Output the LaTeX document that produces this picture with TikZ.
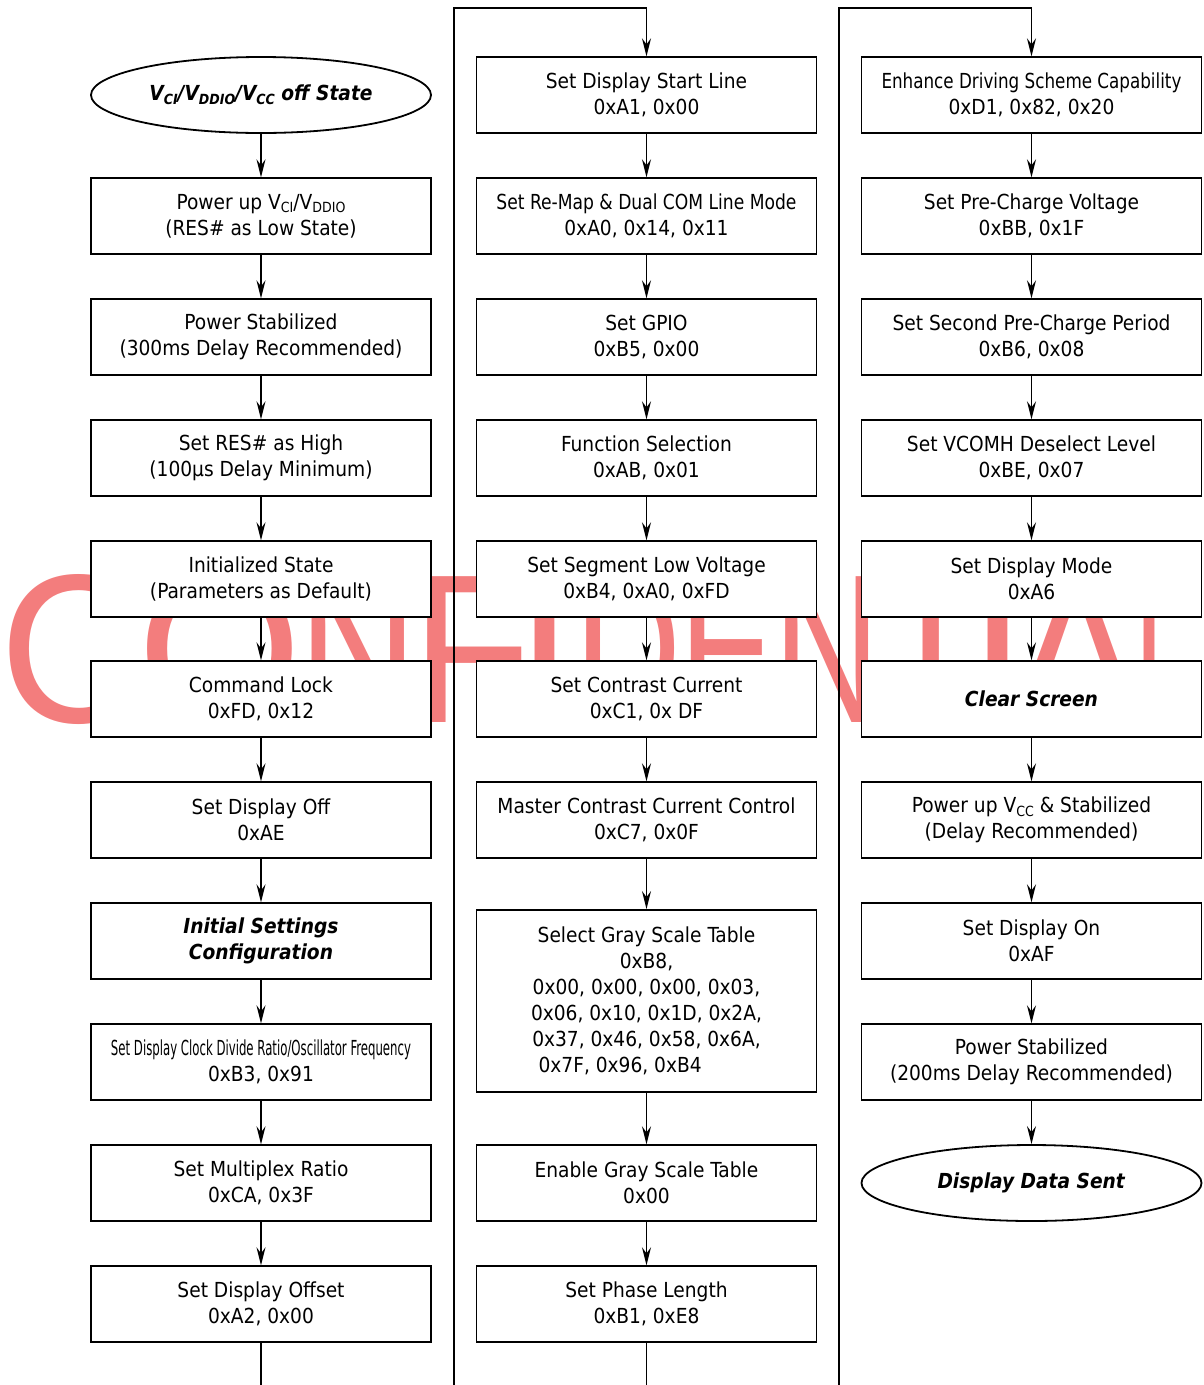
\documentclass[tikz,border=0pt]{standalone}
\usepackage{fontspec}
\usepackage{graphicx}
\setmainfont{DejaVu Sans Condensed}
\newfontfamily\wmfont{Liberation Sans}
\usetikzlibrary{shapes.geometric,arrows.meta}
\definecolor{wmred}{RGB}{243,125,125}
\newcommand{\bodyfont}{\fontsize{20.7}{26}\selectfont}
\newcommand{\mysub}[1]{\raisebox{-0.18em}{\fontsize{14}{14}\selectfont #1}}
\newcommand{\bi}[1]{\textbf{\textit{#1}}}
\newcommand{\squeeze}[2]{\resizebox{#1}{\height}{#2}}
\newcommand{\lalignline}[2]{\setbox0\hbox{#1}\hbox to \wd0{#2\hfil}}
\tikzset{
  box/.style={draw, line width=1.8pt, fill=white, minimum width=340pt, minimum height=75.5pt, align=center, inner sep=0pt, font=\bodyfont},
  oval/.style={ellipse, draw, line width=1.8pt, fill=white, minimum width=340pt, minimum height=76pt, align=center, inner sep=0pt, font=\bodyfont},
  flow/.style={line width=1.6pt, -{Stealth[length=18pt,width=9pt,inset=6pt]}},
  plain/.style={line width=1.6pt},
  wm/.style={inner sep=0pt, anchor=base, text=wmred, font=\wmfont\fontsize{212}{212}\selectfont},
}
\begin{document}
\begin{tikzpicture}[x=1pt,y=-1pt]
\useasboundingbox (0,0) rectangle (1203,1385);
% watermark letters
\node[wm] (w1) at (74,722) {\scalebox{0.97}[1]{C}};
\node[wm] (w2) at (219.5,722) {\scalebox{1.0}[1]{O}};
\node[wm] (w3) at (358,722) {\scalebox{0.78}[1]{N}};
\node[wm] (w4) at (472,722) {\scalebox{0.93}[1]{F}};
\node[wm] (w5) at (545,722) {I};
\node[wm] (w6) at (628,722) {\scalebox{0.70}[1]{D}};
\node[wm] (w7) at (728,722) {\scalebox{0.68}[1]{E}};
\node[wm] (w8) at (827,722) {\scalebox{0.70}[1]{N}};
\node[wm] (w9) at (931,722) {\scalebox{0.83}[1]{T}};
\node[wm] (w10) at (998,722) {I};
\node[wm] (w11) at (1077,722) {\scalebox{0.89}[1]{A}};
\node[wm, anchor=base west] (w12) at (1134,722) {\scalebox{0.55}[1]{L}};

% column 1
\node[oval] (a1) at (261,95) {\bi{V\mysub{CI}/V\mysub{DDIO}/V\mysub{CC} off State}};
\node[box] (a2) at (261,216) {Power up V\mysub{CI}/V\mysub{DDIO}\\(RES\# as Low State)};
\node[box] (a3) at (261,337) {Power Stabilized\\(300ms Delay Recommended)};
\node[box] (a4) at (261,458) {Set RES\# as High\\(100µs Delay Minimum)};
\node[box] (a5) at (261,579) {Initialized State\\(Parameters as Default)};
\node[box] (a6) at (261,699) {Command Lock\\0xFD, 0x12};
\node[box] (a7) at (261,820) {Set Display Off\\0xAE};
\node[box] (a8) at (261,941) {\bi{Initial Settings}\\\bi{Configuration}};
\node[box] (a9) at (261,1062) {\squeeze{300pt}{Set Display Clock Divide Ratio/Oscillator Frequency}\\0xB3, 0x91};
\node[box] (a10) at (261,1183) {Set Multiplex Ratio\\0xCA, 0x3F};
\node[box] (a11) at (261,1304) {Set Display Offset\\0xA2, 0x00};

% column 2
\node[box] (b1) at (646.5,95) {Set Display Start Line\\0xA1, 0x00};
\node[box] (b2) at (646.5,216) {\squeeze{300pt}{Set Re-Map \& Dual COM Line Mode}\\0xA0, 0x14, 0x11};
\node[box] (b3) at (646.5,337) {Set GPIO\\0xB5, 0x00};
\node[box] (b4) at (646.5,458) {Function Selection\\0xAB, 0x01};
\node[box] (b5) at (646.5,579) {Set Segment Low Voltage\\0xB4, 0xA0, 0xFD};
\node[box] (b6) at (646.5,699) {Set Contrast Current\\0xC1, 0x DF};
\node[box] (b7) at (646.5,820) {Master Contrast Current Control\\0xC7, 0x0F};
\node[box, minimum height=182pt] (b8) at (646.5,1001) {Select Gray Scale Table\\0xB8,\\0x00, 0x00, 0x00, 0x03,\\0x06, 0x10, 0x1D, 0x2A,\\0x37, 0x46, 0x58, 0x6A,\\\lalignline{0x00, 0x00, 0x00, 0x03,}{\ 0x7F, 0x96, 0xB4}};
\node[box] (b9) at (646.5,1183) {Enable Gray Scale Table\\0x00};
\node[box] (b10) at (646.5,1304) {Set Phase Length\\0xB1, 0xE8};

% column 3
\node[box] (c1) at (1031.5,95) {\squeeze{300pt}{Enhance Driving Scheme Capability}\\0xD1, 0x82, 0x20};
\node[box] (c2) at (1031.5,216) {Set Pre-Charge Voltage\\0xBB, 0x1F};
\node[box] (c3) at (1031.5,337) {Set Second Pre-Charge Period\\0xB6, 0x08};
\node[box] (c4) at (1031.5,458) {Set VCOMH Deselect Level\\0xBE, 0x07};
\node[box] (c5) at (1031.5,579) {Set Display Mode\\0xA6};
\node[box] (c6) at (1031.5,699) {\bi{Clear Screen}};
\node[box] (c7) at (1031.5,820) {Power up V\mysub{CC} \& Stabilized\\(Delay Recommended)};
\node[box] (c8) at (1031.5,941) {Set Display On\\0xAF};
\node[box] (c9) at (1031.5,1062) {Power Stabilized\\(200ms Delay Recommended)};
\node[oval] (c10) at (1031.5,1183) {\bi{Display Data Sent}};

% arrows
\foreach \i/\j in {1/2,2/3,3/4,4/5,5/6,6/7,7/8,8/9,9/10,10/11}{
  \draw[flow] (a\i) -- (a\j);
}
\foreach \i/\j in {1/2,2/3,3/4,4/5,5/6,6/7,7/8,8/9,9/10}{
  \draw[flow] (b\i) -- (b\j);
  \draw[flow] (c\i) -- (c\j);
}
% loop connectors
\coordinate (a-end) at (261,1385);
\coordinate (b-end) at (646.5,1385);
\coordinate (l2b) at (454,1385);
\coordinate (l2t) at (454,8);
\coordinate (l3b) at (839,1385);
\coordinate (l3t) at (839,8);
\draw[plain] (a11) -- (a-end);
\draw[plain] (b10) -- (b-end);
\draw[flow] (l2b) -- (l2t) -| (b1);
\draw[flow] (l3b) -- (l3t) -| (c1);
\end{tikzpicture}
\end{document}
